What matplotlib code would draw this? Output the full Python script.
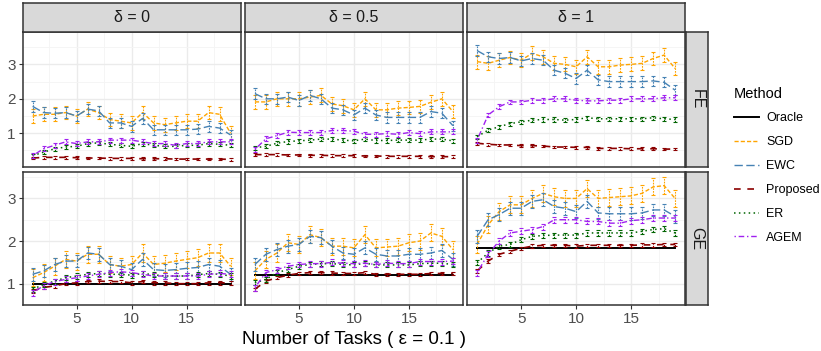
import numpy as np
import matplotlib
matplotlib.use("Agg")
import matplotlib.pyplot as plt
from matplotlib.lines import Line2D

plt.rcParams['font.family'] = ['Liberation Sans', 'DejaVu Sans']

tasks = np.arange(1, 20)
deltas = ['δ = 0', 'δ = 0.5', 'δ = 1']
rows = ['FE', 'GE']
methods = ['Oracle', 'SGD', 'EWC', 'Proposed', 'ER', 'AGEM']

# FE row, one list per delta
sgd_fe = [
    [1.5, 1.55, 1.55, 1.6, 1.5, 1.7, 1.6, 1.4, 1.35, 1.3, 1.6, 1.3, 1.25, 1.3, 1.35, 1.35, 1.6, 1.55, 1.0],
    [1.91, 1.91, 2.0, 2.0, 2.0, 2.05, 2.1, 1.85, 1.8, 1.68, 2.0, 1.68, 1.68, 1.73, 1.75, 1.78, 1.9, 2.0, 1.63],
    [3.08, 3.03, 3.12, 3.2, 3.12, 3.32, 3.22, 3.03, 3.0, 2.93, 3.22, 2.93, 2.93, 2.98, 3.0, 3.03, 3.17, 3.27, 2.88],
]
ewc_fe = [
    [1.78, 1.6, 1.58, 1.6, 1.5, 1.7, 1.65, 1.3, 1.3, 1.2, 1.43, 1.1, 1.1, 1.1, 1.1, 1.12, 1.2, 1.15, 0.95],
    [2.15, 2.0, 2.0, 2.05, 1.95, 2.1, 2.0, 1.73, 1.68, 1.53, 1.73, 1.53, 1.46, 1.46, 1.46, 1.46, 1.63, 1.58, 1.22],
    [3.4, 3.22, 3.17, 3.2, 3.1, 3.17, 3.12, 2.83, 2.74, 2.59, 2.83, 2.55, 2.5, 2.5, 2.5, 2.5, 2.52, 2.48, 2.25],
]
prop_fe = [
    [0.28, 0.3, 0.3, 0.3, 0.29, 0.28, 0.28, 0.27, 0.27, 0.27, 0.26, 0.26, 0.26, 0.25, 0.25, 0.25, 0.25, 0.25, 0.24],
    [0.38, 0.38, 0.38, 0.37, 0.37, 0.36, 0.36, 0.35, 0.35, 0.35, 0.34, 0.34, 0.33, 0.33, 0.33, 0.33, 0.32, 0.32, 0.32],
    [0.71, 0.68, 0.66, 0.66, 0.64, 0.64, 0.63, 0.6, 0.6, 0.59, 0.59, 0.56, 0.56, 0.56, 0.55, 0.55, 0.55, 0.54, 0.54],
]
er_fe = [
    [0.35, 0.45, 0.55, 0.6, 0.62, 0.7, 0.72, 0.68, 0.65, 0.62, 0.7, 0.65, 0.62, 0.62, 0.65, 0.65, 0.7, 0.68, 0.65],
    [0.58, 0.62, 0.71, 0.76, 0.78, 0.8, 0.83, 0.83, 0.8, 0.78, 0.83, 0.79, 0.79, 0.8, 0.8, 0.8, 0.83, 0.83, 0.78],
    [0.9, 1.09, 1.19, 1.28, 1.33, 1.38, 1.4, 1.4, 1.38, 1.4, 1.45, 1.42, 1.42, 1.42, 1.42, 1.42, 1.45, 1.42, 1.4],
]
agem_fe = [
    [0.35, 0.55, 0.65, 0.75, 0.7, 0.75, 0.75, 0.8, 0.8, 0.8, 0.75, 0.7, 0.7, 0.65, 0.7, 0.7, 0.75, 0.75, 0.75],
    [0.53, 0.84, 0.93, 1.03, 1.02, 1.02, 1.02, 1.08, 1.08, 1.06, 0.97, 0.97, 0.99, 0.97, 1.02, 0.99, 1.04, 1.04, 1.04],
    [0.8, 1.53, 1.77, 1.91, 1.91, 1.96, 1.96, 2.0, 2.0, 1.96, 1.94, 1.94, 1.96, 1.96, 2.0, 2.0, 2.0, 2.03, 2.03],
]

# GE row
oracle_ge = [
    [1.0] * 19,
    [1.2] * 19,
    [1.84] * 19,
]
sgd_ge = [
    [1.14, 1.26, 1.41, 1.57, 1.53, 1.69, 1.69, 1.45, 1.41, 1.45, 1.72, 1.45, 1.48, 1.53, 1.57, 1.61, 1.72, 1.72, 1.41],
    [1.3, 1.57, 1.72, 1.96, 1.92, 2.15, 2.08, 1.88, 1.88, 1.84, 2.15, 1.84, 1.86, 1.88, 1.96, 2.0, 2.19, 2.11, 1.8],
    [1.92, 2.38, 2.69, 2.85, 2.85, 3.0, 3.12, 3.04, 3.0, 3.0, 3.23, 3.0, 3.02, 3.04, 3.06, 3.12, 3.27, 3.3, 3.0],
]
ewc_ge = [
    [1.22, 1.3, 1.45, 1.53, 1.53, 1.72, 1.69, 1.45, 1.41, 1.33, 1.57, 1.33, 1.31, 1.33, 1.36, 1.38, 1.45, 1.41, 1.22],
    [1.45, 1.69, 1.8, 1.88, 1.92, 2.11, 2.08, 1.88, 1.72, 1.69, 1.84, 1.69, 1.65, 1.65, 1.69, 1.69, 1.72, 1.78, 1.57],
    [2.11, 2.5, 2.62, 2.77, 2.77, 2.93, 2.97, 2.81, 2.77, 2.69, 2.93, 2.66, 2.64, 2.64, 2.64, 2.66, 2.73, 2.73, 2.58],
]
prop_ge = [
    [0.83, 0.91, 0.95, 1.0, 1.02, 1.05, 1.06, 1.05, 1.05, 1.02, 1.05, 1.02, 1.02, 1.0, 1.0, 1.0, 1.02, 1.02, 1.02],
    [0.87, 1.06, 1.14, 1.2, 1.24, 1.26, 1.26, 1.25, 1.24, 1.24, 1.26, 1.22, 1.22, 1.22, 1.22, 1.22, 1.24, 1.24, 1.24],
    [1.3, 1.53, 1.69, 1.76, 1.83, 1.88, 1.9, 1.9, 1.9, 1.88, 1.9, 1.9, 1.9, 1.9, 1.9, 1.91, 1.91, 1.92, 1.92],
]
er_ge = [
    [0.87, 0.98, 1.06, 1.14, 1.18, 1.22, 1.24, 1.22, 1.22, 1.2, 1.24, 1.21, 1.18, 1.18, 1.18, 1.21, 1.24, 1.22, 1.18],
    [1.02, 1.1, 1.26, 1.33, 1.41, 1.45, 1.47, 1.47, 1.45, 1.44, 1.48, 1.44, 1.44, 1.44, 1.44, 1.47, 1.48, 1.48, 1.45],
    [1.49, 1.72, 1.88, 1.92, 2.03, 2.11, 2.13, 2.14, 2.14, 2.14, 2.19, 2.19, 2.19, 2.19, 2.19, 2.23, 2.27, 2.29, 2.19],
]
agem_ge = [
    [0.79, 0.95, 1.05, 1.1, 1.14, 1.18, 1.22, 1.26, 1.28, 1.26, 1.22, 1.18, 1.18, 1.18, 1.18, 1.18, 1.22, 1.24, 1.22],
    [0.91, 1.26, 1.33, 1.41, 1.45, 1.47, 1.47, 1.5, 1.48, 1.47, 1.48, 1.45, 1.48, 1.47, 1.47, 1.52, 1.52, 1.52, 1.53],
    [1.26, 1.69, 2.0, 2.19, 2.23, 2.27, 2.34, 2.5, 2.5, 2.5, 2.46, 2.46, 2.42, 2.42, 2.48, 2.5, 2.54, 2.54, 2.54],
]

# rough error bar half widths per method
err_size = {'Oracle': 0.0, 'SGD': 0.2, 'EWC': 0.15, 'Proposed': 0.04, 'ER': 0.06, 'AGEM': 0.07}

data = {
    'FE': {'SGD': sgd_fe, 'EWC': ewc_fe, 'Proposed': prop_fe, 'ER': er_fe, 'AGEM': agem_fe},
    'GE': {'Oracle': oracle_ge, 'SGD': sgd_ge, 'EWC': ewc_ge, 'Proposed': prop_ge, 'ER': er_ge, 'AGEM': agem_ge},
}

styles = {
    'Oracle':   dict(color='black', ls='-', lw=1.4),
    'SGD':      dict(color='#FFA500', ls=(0, (3, 1.5)), lw=1.0),
    'EWC':      dict(color='#4682B4', ls=(0, (6, 2.5)), lw=1.0),
    'Proposed': dict(color='#8B0000', ls=(0, (4, 4)), lw=1.2),
    'ER':       dict(color='#006400', ls=(0, (1, 2.2)), lw=1.1),
    'AGEM':     dict(color='#A020F0', ls=(0, (1, 2, 4, 2)), lw=1.0),
}

W, H = 821, 351
fig = plt.figure(figsize=(W / 100, H / 100), dpi=100)


def rect(l, t, r, b):
    return [l / W, 1 - b / H, (r - l) / W, (b - t) / H]


col_lefts = [22.7, 245.0, 467.2]
pw = 217.8
row_tb = [(32, 167), (172, 305)]
ylims = [(0.02, 3.94), (0.52, 3.62)]
grey = '#4D4D4D'

for ri, row in enumerate(rows):
    for ci in range(3):
        l = col_lefts[ci]
        t, b = row_tb[ri]
        ax = fig.add_axes(rect(l, t, l + pw, b))
        ax.set_xlim(0.1, 19.9)
        ax.set_ylim(*ylims[ri])
        ax.set_xticks([5, 10, 15])
        ax.set_xticks([2.5, 7.5, 12.5, 17.5], minor=True)
        ax.set_yticks([1, 2, 3])
        ax.set_yticks([0.5, 1.5, 2.5, 3.5], minor=True)
        ax.grid(True, which='major', color='#EBEBEB', lw=1.0)
        ax.grid(True, which='minor', color='#F4F4F4', lw=0.6)
        ax.set_axisbelow(True)
        for sp in ax.spines.values():
            sp.set_color('#333333')
            sp.set_linewidth(1.1)
        ax.tick_params(which='major', length=3, color='#333333', labelcolor=grey, labelsize=11, pad=2)
        ax.tick_params(which='minor', length=0)
        if ci > 0:
            ax.tick_params(labelleft=False, left=False)
        if ri == 0:
            ax.tick_params(labelbottom=False, bottom=False)

        for m in methods:
            if m not in data[row]:
                continue
            yv = np.array(data[row][m][ci])
            st = styles[m]
            ax.plot(tasks, yv, color=st['color'], ls=st['ls'], lw=st['lw'], zorder=3)
            if err_size[m] > 0:
                eb = ax.errorbar(tasks, yv, yerr=err_size[m], fmt='none', ecolor=st['color'],
                                 elinewidth=0.8, capsize=1.3, capthick=0.8, zorder=3)
                eb[2][0].set_linestyle((0, (1.5, 1)))

        # top strips
        if ri == 0:
            sax = fig.add_axes(rect(l, 3, l + pw, 32))
            sax.set_facecolor('#D9D9D9')
            sax.set_xticks([])
            sax.set_yticks([])
            for sp in sax.spines.values():
                sp.set_color('#333333')
                sp.set_linewidth(1.1)
            sax.text(0.5, 0.5, deltas[ci], ha='center', va='center', fontsize=11.5,
                     color='#1A1A1A', transform=sax.transAxes)

    # right strips
    t, b = row_tb[ri]
    rax = fig.add_axes(rect(686, t, 708, b))
    rax.set_facecolor('#D9D9D9')
    rax.set_xticks([])
    rax.set_yticks([])
    for sp in rax.spines.values():
        sp.set_color('#333333')
        sp.set_linewidth(1.1)
    rax.text(0.5, 0.5, row, ha='center', va='center', rotation=-90, fontsize=11.5,
             color='#1A1A1A', transform=rax.transAxes)

fig.text(354 / W, 1 - 340 / H, 'Number of Tasks ( ε = 0.1 )', ha='center', va='center',
         fontsize=13.5, color='black')

handles = [Line2D([0], [0], color=styles[m]['color'], ls=styles[m]['ls'], lw=styles[m]['lw'])
           for m in methods]
leg = fig.legend(handles, methods, loc='upper left', bbox_to_anchor=(731 / W, 1 - 84 / H),
                 frameon=False, title='Method', fontsize=9, title_fontsize=10.5,
                 handlelength=2.0, labelspacing=0.95, handletextpad=0.6, borderaxespad=0,
                 borderpad=0.2)
leg._legend_box.align = 'left'

fig.savefig('out.png', dpi=100)
